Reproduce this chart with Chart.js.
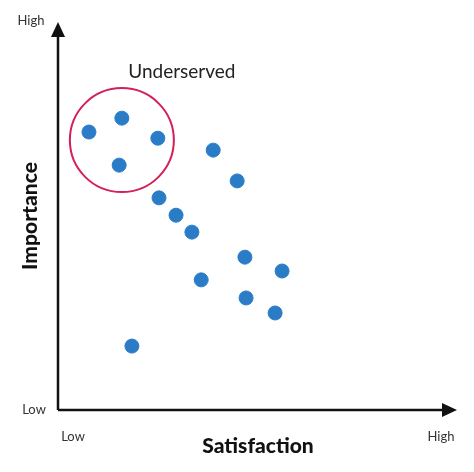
<!DOCTYPE html>
<html><head><meta charset="utf-8">
<script src="https://cdn.jsdelivr.net/npm/chart.js@4"></script>
<style>html,body{margin:0;padding:0;background:#fff}#w{width:474px;height:472px}</style>
</head><body><div id="w"><canvas id="c"></canvas></div>
<script>
const satisfaction = [8.0,16.5,25.8,15.8,40.1,46.3,26.1,30.5,34.6,48.3,57.9,37.0,48.6,56.1,19.1];
const importance   = [72.2,75.8,70.6,63.6,67.5,59.5,55.1,50.6,46.2,39.7,36.1,33.8,29.1,25.2,16.6];
const circleCenter = [16.5,70.1];
const circleLabel = 'Underserved';
const axisLabels = {x:'Satisfaction', y:'Importance', low:'Low', high:'High'};

const overlay = {
  id:'overlay',
  afterDraw(chart){
    const {ctx, chartArea:a, scales:{x,y}} = chart;
    ctx.save();
    ctx.strokeStyle='#111'; ctx.fillStyle='#111'; ctx.lineWidth=2.5;
    const ox=a.left, oy=a.bottom;
    ctx.beginPath(); ctx.moveTo(ox,oy); ctx.lineTo(ox,a.top+8); ctx.stroke();
    ctx.beginPath(); ctx.moveTo(ox,a.top-3); ctx.lineTo(ox-7,a.top+12); ctx.lineTo(ox+7,a.top+12); ctx.closePath(); ctx.fill();
    ctx.beginPath(); ctx.moveTo(ox,oy); ctx.lineTo(a.right+2,oy); ctx.stroke();
    ctx.beginPath(); ctx.moveTo(a.right+12,oy); ctx.lineTo(a.right-3,oy-7); ctx.lineTo(a.right-3,oy+7); ctx.closePath(); ctx.fill();
    ctx.fillStyle='#333'; ctx.font='13px Lato'; ctx.textBaseline='middle';
    ctx.textAlign='center';
    ctx.fillText(axisLabels.high, 31, 21);
    ctx.fillText(axisLabels.low, 34, 410);
    ctx.fillText(axisLabels.low, 73, 437);
    ctx.fillText(axisLabels.high, 441, 437);
    ctx.fillStyle='#111'; ctx.font='900 21px Lato';
    ctx.fillText(axisLabels.x, 258, 446);
    ctx.save(); ctx.translate(30,216); ctx.rotate(-Math.PI/2); ctx.fillText(axisLabels.y,0,0); ctx.restore();
    const cx=x.getPixelForValue(circleCenter[0]), cy=y.getPixelForValue(circleCenter[1]);
    ctx.strokeStyle='#d41f5a'; ctx.lineWidth=2;
    ctx.beginPath(); ctx.arc(cx,cy,52,0,Math.PI*2); ctx.stroke();
    ctx.fillStyle='#222'; ctx.font='19px Lato';
    ctx.fillText(circleLabel, cx+60, cy-68);
    ctx.restore();
  }
};

new Chart(document.getElementById('c'),{
  type:'scatter',
  data:{datasets:[{data:satisfaction.map((v,i)=>({x:v,y:importance[i]})),
    backgroundColor:'#2a7cc7', borderColor:'#2a7cc7', pointRadius:7, pointHoverRadius:7}]},
  options:{responsive:true, maintainAspectRatio:false, animation:false,
    layout:{padding:{left:58,right:29,top:25,bottom:62}},
    plugins:{legend:{display:false},tooltip:{enabled:false}},
    scales:{x:{display:false,min:0,max:100},y:{display:false,min:0,max:100}}},
  plugins:[overlay]
});
</script></body></html>
